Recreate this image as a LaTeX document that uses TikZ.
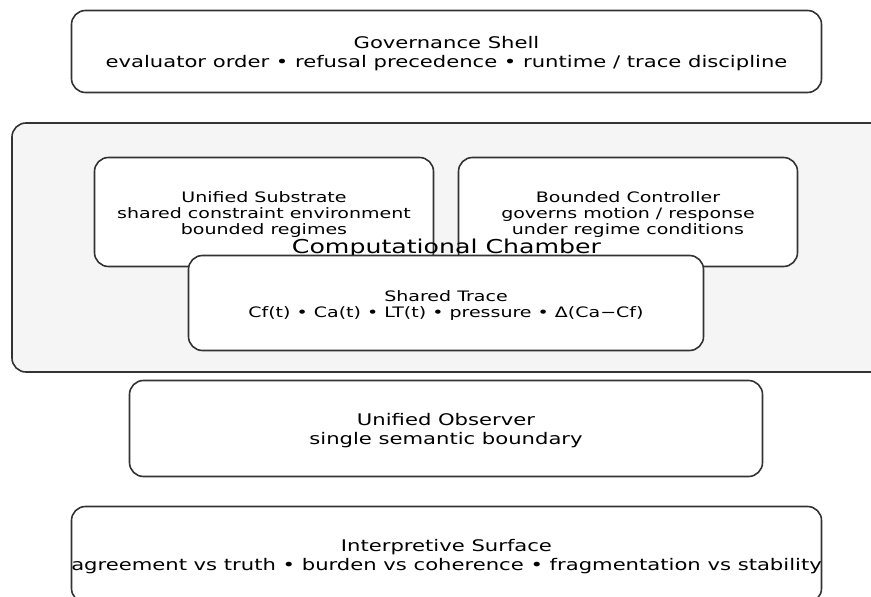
\documentclass[tikz,border=0pt]{standalone}
\usepackage{fontspec}
\setmainfont{DejaVu Sans}[FakeStretch=1.32]
\begin{document}
\begin{tikzpicture}[x=1pt,y=-1pt,
  box/.style={draw=black!80, line width=1.6pt, rounded corners=14pt, fill=white, inner sep=0pt},
  big/.style={font=\fontsize{16}{19}\selectfont, align=center, inner sep=0pt},
  small/.style={font=\fontsize{14.4}{16}\selectfont, align=center, inner sep=0pt}]
\useasboundingbox (0,0) rectangle (871,597);
\clip (0,0) rectangle (871,597);
\node[box, minimum width=750pt, minimum height=82pt] (gov) at (446.5,51.5) {};
\node[big] (govt) at ([yshift=-2pt]gov.center)
  {Governance Shell\\evaluator order • refusal precedence • runtime / trace discipline};
\node[box, fill=black!4, minimum width=878pt, minimum height=249pt] (chamber) at (451,247.5) {};
\node[box, minimum width=339pt, minimum height=109pt] (sub) at (264,212) {};
\node[small] (subt) at ([yshift=-2.5pt]sub.center)
  {Unified Substrate\\shared constraint environment\\bounded regimes};
\node[box, minimum width=339pt, minimum height=109pt] (ctrl) at (628,212) {};
\node[small] (ctrlt) at ([yshift=-2.5pt]ctrl.center)
  {Bounded Controller\\governs motion / response\\under regime conditions};
\node[font=\fontsize{19.1}{22}\selectfont, inner sep=0pt] (chlabel) at (446.5,248.5) {Computational Chamber};
\node[box, minimum width=515pt, minimum height=95pt] (trace) at (446,303) {};
\node[small] (tracet) at ([yshift=-2.5pt]trace.center)
  {Shared Trace\\Cf(t) • Ca(t) • LT(t) • pressure • Δ(Ca−Cf)};
\node[box, minimum width=633pt, minimum height=96pt] (obs) at (446,428.5) {};
\node[big] (obst) at ([yshift=-2pt]obs.center)
  {Unified Observer\\single semantic boundary};
\node[box, minimum width=750pt, minimum height=96pt] (surf) at (446.5,554.5) {};
\node[big] (surft) at ([yshift=-2pt]surf.center)
  {Interpretive Surface\\agreement vs truth • burden vs coherence • fragmentation vs stability};
\end{tikzpicture}
\end{document}
